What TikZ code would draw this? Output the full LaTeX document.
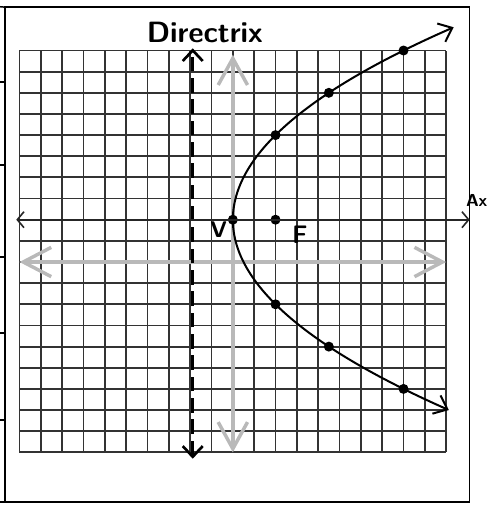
\documentclass[tikz,border=0pt]{standalone}
\usepackage{tikz}
\usepackage{amsmath}
\usetikzlibrary{arrows.meta}
\usetikzlibrary{calc}

\begin{document}
\begin{tikzpicture}[x=16pt, y=15.86pt,
    gridline/.style={black!80, line width=1.4pt},
    coordaxis/.style={gray!55, line width=2.6pt},
    penline/.style={black, line width=1.5pt},
    dotmark/.style={circle, fill=black, inner sep=0pt, minimum size=7.5pt},
    handtext/.style={inner sep=0pt}
]

    \useasboundingbox (-10.913,-11.631) rectangle (12.037,12.388);

    % Page frame and the cut table rules on the left
    \draw[black, line width=1.1pt] (-10.68,12.05) rectangle (11.10,-11.35);
    \draw[black, line width=1.1pt] (-10.913,12.07) -- (-10.68,12.05);
    \draw[black, line width=1.1pt] (-10.913,-11.35) -- (-10.68,-11.35);
    \foreach \yy in {8.51,4.59,0.24,-3.36,-7.47}
        \draw[black, line width=0.9pt] (-10.913,\yy) -- (-10.68,\yy);

    % Graph paper
    \draw[gridline, step=1] (-10,-9) grid (10,10);

    % Axes
    \draw[coordaxis, {Straight Barb[length=21pt,width=22pt]}-{Straight Barb[length=21pt,width=22pt]}]
        (-10,0) -- (10,0);
    \draw[coordaxis, {Straight Barb[length=20pt,width=22pt]}-{Straight Barb[length=20pt,width=22pt]}]
        (0,-9) -- (0,9.8);

    % Vertex, focus and points on the curve
    % (y-2)^2 = 8x  ->  p = 2, focus 2 right of vertex, directrix 2 left
    \node[dotmark] (vertex) at (0,2) {};
    \node[dotmark] (focus) at (2,2) {};
    \node[dotmark] (pu1) at (2,6) {};
    \node[dotmark] (pu2) at (4.5,8) {};
    \node[dotmark] (pu3) at (8,10) {};
    \node[dotmark] (pl1) at (2,-2) {};
    \node[dotmark] (pl2) at (4.5,-4) {};
    \node[dotmark] (pl3) at (8,-6) {};

    % Parabola
    \draw[penline, {Straight Barb[length=9pt,width=15pt]}-{Straight Barb[length=9pt,width=15pt]}]
        plot[domain=-9:9.1, samples=60, smooth] ({\x*\x/8}, {\x+2});

    % Directrix (hand drawn a little right of the x = -2 line)
    \coordinate (dirtop) at (-1.88,10.1);
    \coordinate (dirbot) at (-1.88,-9.3);
    \draw[penline, line width=2pt, dash pattern=on 11pt off 5pt,
          {Straight Barb[length=8pt,width=15pt]}-{Straight Barb[length=8pt,width=15pt]}]
        (dirbot) -- (dirtop);
    \node[handtext, font=\sffamily\bfseries\fontsize{22}{22}\selectfont] (directrixlabel)
        at (-1.31,10.87) {Directrix};

    % Axis of symmetry
    \coordinate (axleft) at (-10.15,2);
    \coordinate (axright) at (11.1,2);
    \draw[black!85, line width=1.2pt, {Straight Barb[length=5pt,width=12pt]}-{Straight Barb[length=5pt,width=12pt]}]
        (axleft) -- (axright);
    \node[handtext, font=\sffamily\bfseries\fontsize{13}{13}\selectfont] (axislabel)
        at (11.43,2.93) {Ax};

    % Labels
    \node[handtext, font=\sffamily\bfseries\fontsize{17}{17}\selectfont] (vlabel) at (-0.66,1.51) {V};
    \node[handtext, font=\sffamily\bfseries\fontsize{19}{19}\selectfont] (flabel) at (3.14,1.28) {F};

\end{tikzpicture}
\end{document}
